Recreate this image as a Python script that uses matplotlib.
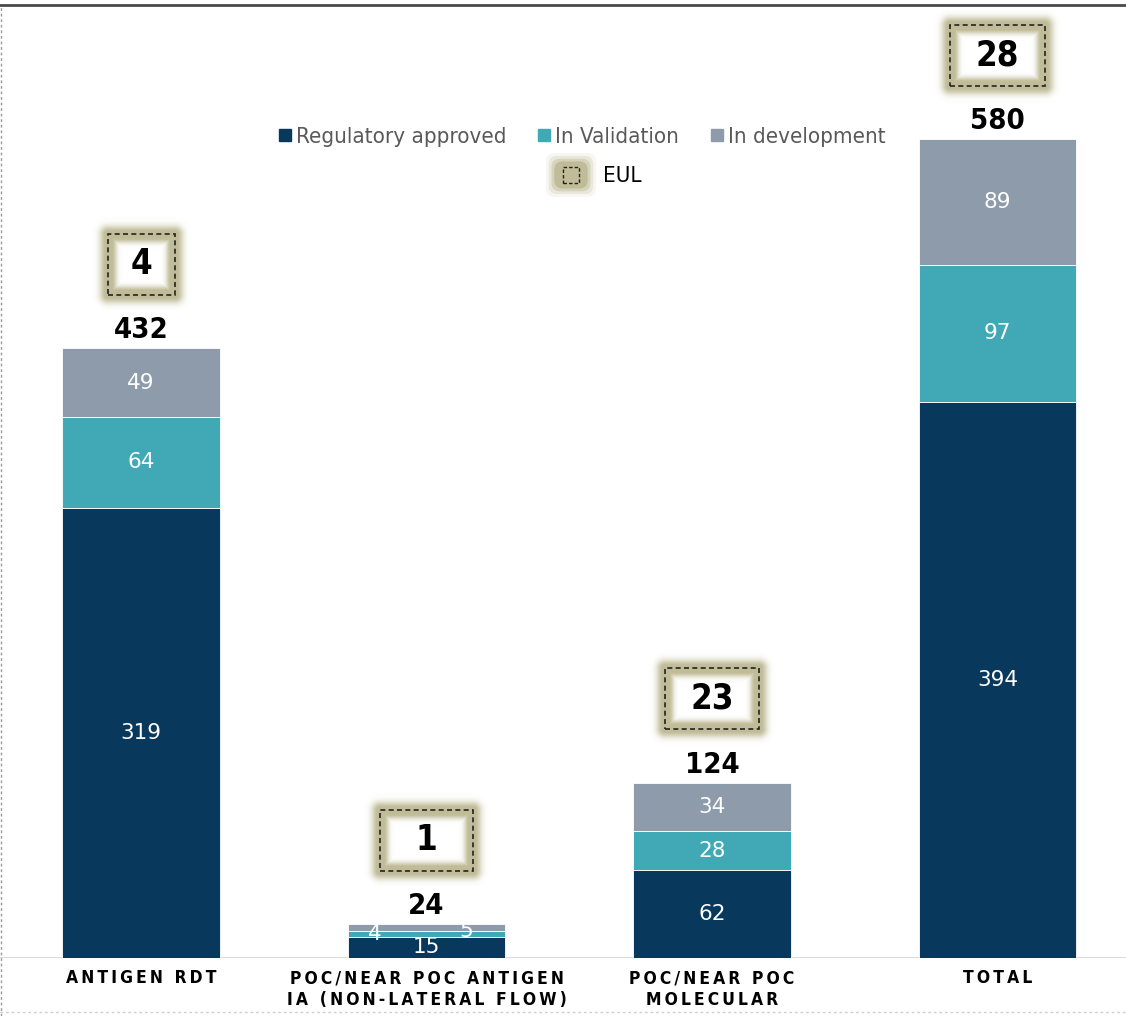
import matplotlib
matplotlib.use("Agg")
import matplotlib.pyplot as plt
import numpy as np
from matplotlib.lines import Line2D
from matplotlib.patches import Rectangle, FancyBboxPatch
from matplotlib.legend_handler import HandlerBase
from matplotlib.font_manager import FontProperties

# test counts per category
categories = ["ANTIGEN RDT", "POC/NEAR POC ANTIGEN\nIA (NON-LATERAL FLOW)",
              "POC/NEAR POC\nMOLECULAR", "TOTAL"]
approved = [319, 15, 62, 394]
validation = [64, 4, 28, 97]
development = [49, 5, 34, 89]
totals = [432, 24, 124, 580]
eul = [4, 1, 23, 28]

series_names = ["Regulatory approved", "In Validation", "In development"]
colors = ["#08395d", "#41a9b5", "#8d9bab"]
khaki = np.array([192, 188, 152]) / 255.0


def cond(size, weight="normal"):
    return FontProperties(family="DejaVu Sans", stretch="condensed", size=size, weight=weight)


W_PX, H_PX = 1126, 1016
fig = plt.figure(figsize=(W_PX / 100, H_PX / 100), dpi=100)
ax = fig.add_axes([0, 58 / H_PX, 1, 953 / H_PX])
xlim = (-141 / 285.5, 985 / 285.5)
ylim = (0, 675)
# pixels per data unit, used for the EUL boxes
sx = W_PX / (xlim[1] - xlim[0])
sy = 953 / (ylim[1] - ylim[0])

x = np.arange(len(categories))
width = 0.553
bottom = np.zeros(len(x))
for vals, c in zip([approved, validation, development], colors):
    ax.bar(x, vals, width, bottom=bottom, color=c, edgecolor="white",
           linewidth=0.6, zorder=2)
    bottom += np.array(vals)


def seg_labels(vals, base):
    for i, v in enumerate(vals):
        yc = base[i] + v / 2
        dx, dy = 0, 0
        if v * sy < 12:
            # thin segments: push the label sideways
            dx = -52 if vals is validation else 40
            dy = 0 if vals is validation else -3
        ax.annotate(str(v), (x[i], yc), xytext=(dx, dy), textcoords="offset pixels",
                    ha="center", va="center", color="white", fontsize=15.5,
                    family="DejaVu Sans", zorder=5)


base = np.zeros(len(x))
for vals in [approved, validation, development]:
    seg_labels(vals, base)
    base += np.array(vals)

for i, t in enumerate(totals):
    ax.annotate(str(t), (x[i], t), xytext=(0, 18), textcoords="offset pixels",
                ha="center", va="center", fontproperties=cond(21, "bold"), zorder=5)


def glow_box(xc, yc, w, h, label):
    m = 18
    W, H = int(w + 2 * m), int(h + 2 * m)
    xx, yy = np.meshgrid(np.arange(W) + 0.5 - W / 2, np.arange(H) + 0.5 - H / 2)
    dx = np.abs(xx) - w / 2
    dy = np.abs(yy) - h / 2
    d = np.hypot(np.maximum(dx, 0), np.maximum(dy, 0)) + np.minimum(np.maximum(dx, dy), 0)
    a = np.where(d > 0, np.exp(-(np.maximum(d - 2, 0) / 6.5) ** 2),
                 np.exp(-(np.maximum(-d - 4, 0) / 5) ** 2))
    rgba = np.zeros((H, W, 4))
    rgba[..., :3] = khaki
    rgba[..., 3] = a
    ax.imshow(rgba, extent=(xc - W / 2 / sx, xc + W / 2 / sx, yc - H / 2 / sy, yc + H / 2 / sy),
              aspect="auto", interpolation="bilinear", zorder=3)
    ax.add_patch(Rectangle((xc - w / 2 / sx, yc - h / 2 / sy), w / sx, h / sy, fill=False,
                           edgecolor="#222222", lw=1.2, ls=(0, (3, 2)), zorder=4))
    ax.text(xc, yc, label, ha="center", va="center", fontproperties=cond(25, "bold"), zorder=5)


box_w = [67, 93, 94, 95]
for i, (t, n) in enumerate(zip(totals, eul)):
    glow_box(x[i], t + 84 / sy, box_w[i], 61, str(n))


class HandlerEUL(HandlerBase):
    def create_artists(self, legend, orig_handle, xdescent, ydescent, width, height,
                       fontsize, trans):
        arts = []
        for k, al in [(6, 0.12), (4, 0.25), (2, 0.45), (0, 1.0)]:
            arts.append(FancyBboxPatch((-xdescent, -ydescent), width, height,
                                       boxstyle="round,pad=%d,rounding_size=6" % k,
                                       facecolor=khaki, edgecolor="none", alpha=al,
                                       transform=trans))
        arts.append(Rectangle((-xdescent + width * 0.25, -ydescent + height * 0.2),
                              width * 0.5, height * 0.6, fill=False, edgecolor="#222222",
                              lw=1.0, ls=(0, (2.5, 1.5)), transform=trans))
        return arts


handles = [Line2D([], [], marker="s", ls="none", color=c, markersize=9) for c in colors]
leg1 = ax.legend(handles, series_names, loc="center", bbox_to_anchor=(582 / W_PX, (958 - 137) / 953),
                 ncol=3, frameon=False, handlelength=0.6, handletextpad=0.2, columnspacing=1.4,
                 prop=cond(16))
for t in leg1.get_texts():
    t.set_color("#595959")
ax.add_artist(leg1)
leg2 = ax.legend([object()], ["EUL"], handler_map={object: HandlerEUL()}, loc="center",
                 bbox_to_anchor=(598 / W_PX, (958 - 175) / 953), frameon=False,
                 handlelength=1.5, handleheight=1.5, handletextpad=0.7,
                 prop=cond(16))

ax.axhline(0, color="#d6d6d6", lw=2, zorder=1)
ax.set_xlim(*xlim)
ax.set_ylim(*ylim)
ax.set_yticks([])
ax.set_xticks(x)
spaced = ["\u2009".join(lbl).replace("\u2009\n\u2009", "\n").replace("\u2009 \u2009", "\u2009 \u2009")
          for lbl in categories]
ax.set_xticklabels(spaced, linespacing=1.3)
for t in ax.get_xticklabels():
    t.set_fontproperties(cond(12.5, "bold"))
ax.tick_params(axis="x", length=0, pad=8)
for s in ax.spines.values():
    s.set_visible(False)

# page frame
fig.add_artist(Line2D([0, 1], [1 - 5 / H_PX] * 2, transform=fig.transFigure, color="#4a4a4a", lw=2))
fig.add_artist(Line2D([1 / W_PX] * 2, [0, 1 - 5 / H_PX], transform=fig.transFigure,
                      color="#9a9a9a", lw=1, ls=(0, (2, 2))))
fig.add_artist(Line2D([0, 1], [4 / H_PX] * 2, transform=fig.transFigure,
                      color="#cfcfcf", lw=1, ls=(0, (2, 2))))

fig.savefig("out.png", dpi=100)
